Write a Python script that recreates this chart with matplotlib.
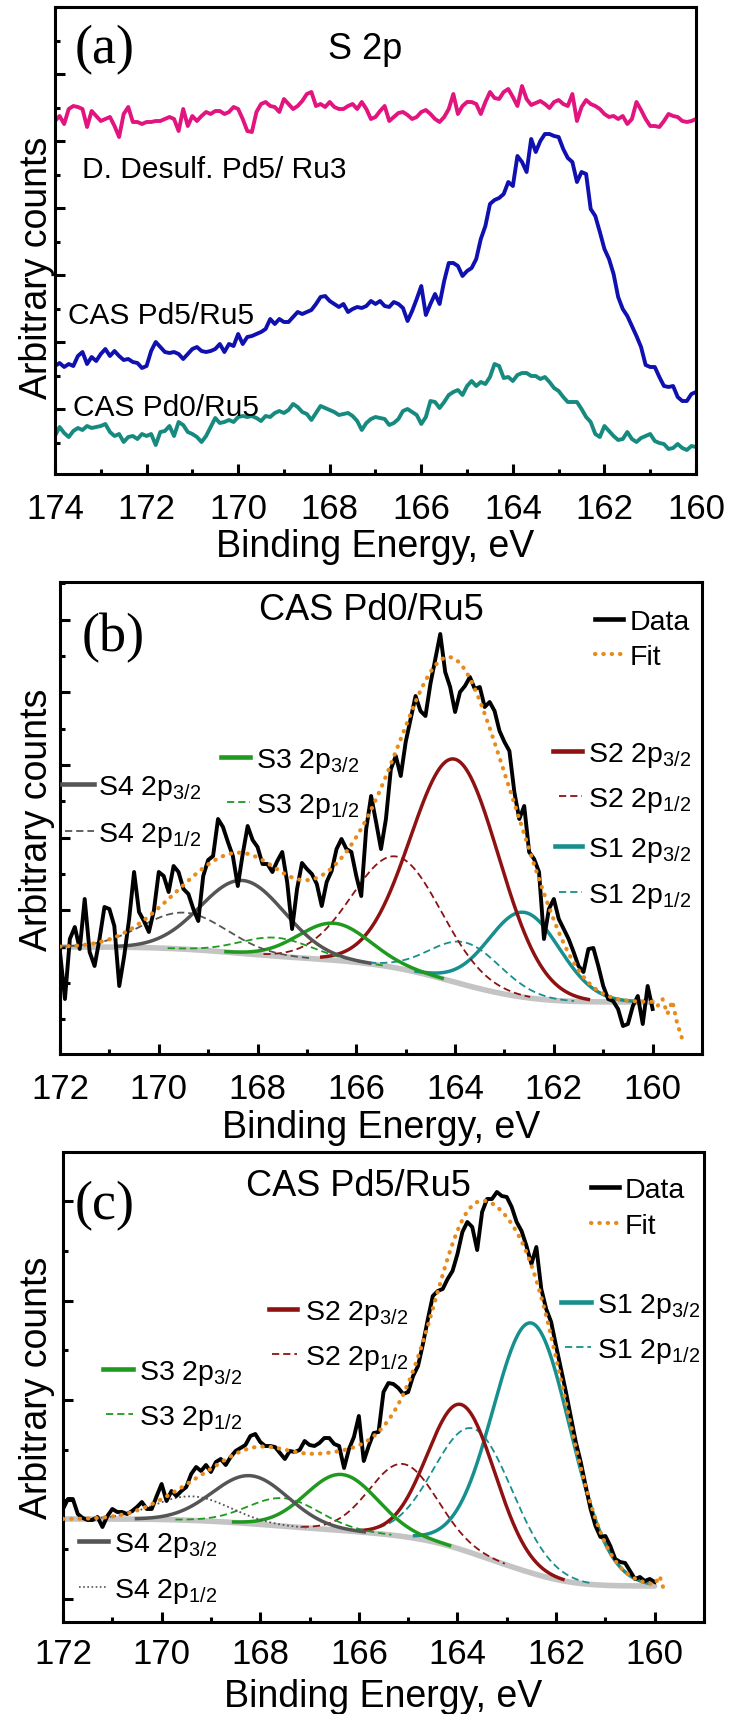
import numpy as np
import matplotlib
matplotlib.use("Agg")
import matplotlib.pyplot as plt
from matplotlib.lines import Line2D
from matplotlib.ticker import MultipleLocator, AutoMinorLocator

W, H, DPI = 729, 1715, 100

plt.rcParams['font.family'] = ['Liberation Sans', 'DejaVu Sans']
plt.rcParams['mathtext.fontset'] = 'custom'
plt.rcParams['mathtext.rm'] = 'Liberation Sans'
plt.rcParams['mathtext.it'] = 'Liberation Sans:italic'
plt.rcParams['mathtext.bf'] = 'Liberation Sans:bold'

# ---------------------------------------------------------------- data
# (a) S 2p survey, 0.1 eV steps from 174.0 down to 160.0 eV
energy_a = np.round(np.linspace(174.0, 160.0, 141), 1)

desulf_pd5_ru3 = [
    353, 358, 350, 365, 368, 367, 365, 347, 363, 358,
    353, 355, 357, 348, 337, 360, 367, 352, 352, 350,
    352, 352, 353, 353, 355, 357, 355, 343, 365, 348,
    358, 353, 358, 362, 360, 363, 363, 360, 362, 367,
    365, 355, 343, 342, 362, 370, 372, 368, 367, 362,
    375, 370, 365, 368, 373, 380, 382, 368, 370, 367,
    372, 367, 365, 365, 368, 370, 365, 372, 365, 355,
    357,
    363, 368, 353, 357, 361, 362, 359, 355, 357, 362,
    364, 360, 355, 352, 357, 365, 380, 360, 368, 372,
    372, 370, 360, 372, 382, 376, 375, 382, 385, 377,
    368, 388, 375, 369, 371, 373, 370, 366, 372, 374,
    370, 368, 380, 353, 367, 374, 370, 368, 365, 360,
    357, 358, 355, 358, 350, 355, 372, 364, 355, 348,
    348, 347, 353, 360, 358, 357, 353, 352, 353, 355,
]

cas_pd5_ru5_a = [
    108, 111, 107, 110, 108, 118, 122, 110, 117, 113,
    120, 125, 118, 123, 118, 114, 115, 112, 111, 106,
    108, 123, 132, 127, 122, 121, 122, 120, 115, 120,
    125, 127, 123, 122, 123, 125, 130, 122, 130, 128,
    140, 130, 137, 138, 140, 142, 145, 155, 150, 155,
    152, 152, 157, 162, 160, 162, 164, 170, 177, 178,
    173, 170, 167, 170, 162, 165, 167, 166, 168, 173,
    170,
    173, 168, 167, 172, 170, 166, 153, 163, 175, 188,
    159, 170, 180, 170, 193, 211, 211, 208, 198, 203,
    206, 215, 235, 248, 270, 274, 276, 280, 292, 288,
    318, 312, 302, 335, 322, 333, 340, 340, 338, 337,
    325, 316, 312, 292, 302, 300, 265, 258, 242, 225,
    215, 200, 177, 165, 158, 148, 138, 127, 109, 107,
    107, 97, 88, 87, 88, 77, 73, 73, 80, 82,
]

cas_pd0_ru5_a = [
    38, 47, 41, 37, 43, 46, 44, 48, 46, 47,
    48, 50, 42, 38, 40, 32, 37, 38, 35, 40,
    38, 40, 29, 42, 43, 48, 38, 52, 49, 42,
    40, 37, 32, 38, 47, 56, 51, 52, 54, 52,
    57, 58, 57, 58, 56, 53, 58, 57, 61, 63,
    61, 64, 70, 67, 62, 60, 54, 61, 68, 66,
    64, 62, 59, 60, 61, 58, 53, 44, 51, 55,
    57,
    56, 55, 49, 51, 55, 63, 65, 62, 59, 50,
    57, 73, 72, 66, 72, 79, 82, 84, 79, 88,
    93, 88, 92, 90, 97, 110, 108, 96, 97, 93,
    99, 101, 101, 98, 98, 95, 97, 92, 86, 83,
    77, 72, 72, 72, 65, 57, 52, 40, 37, 48,
    43, 38, 34, 35, 42, 35, 32, 36, 38, 40,
    33, 31, 30, 25, 26, 30, 26, 24, 28, 27,
]

# (b), (c) high-resolution spectra, 0.1 eV steps from 172.0 down to 160.0 eV
energy_bc = np.round(np.linspace(172.0, 160.0, 121), 1)

data_pd0_ru5 = [
    102, 55, 115, 127, 105, 155, 102, 88, 115, 147,
    145, 128, 68, 98, 135, 182, 142, 133, 122, 143,
    182, 178, 162, 188, 182, 165, 160, 145, 133, 178,
    194, 198, 235, 227, 212, 198, 168, 200, 228, 214,
    207, 190, 190, 182, 193, 202, 172, 125, 165, 191,
    185, 180, 170, 148, 172, 183, 205, 215, 205, 202,
    178, 158, 225, 258, 232, 205, 235, 285, 298, 278,
    312, 335, 358, 343, 338, 370, 395, 420, 382, 367,
    342, 362, 368, 377, 365, 367, 347, 352, 343, 323,
    312, 303, 262, 235, 248, 202, 195, 182, 115, 145,
    155, 135, 125, 115, 102, 88, 82, 105, 106, 88,
    68, 55, 53, 45, 28, 30, 48, 58, 30, 68,
    45,
]

data_pd5_ru5 = [
    113, 123, 123, 108, 104, 102, 102, 105, 95, 106,
    113, 110, 110, 108, 111, 115, 120, 113, 113, 126,
    138, 121, 131, 126, 131, 135, 148, 155, 151, 157,
    150, 160, 163, 157, 165, 171, 174, 177, 186, 188,
    180, 176, 176, 175, 169, 163, 171, 170, 172, 181,
    177, 176, 179, 184, 184, 178, 176, 154, 173, 185,
    206, 161, 176, 189, 190, 230, 239, 238, 234, 228,
    230, 246, 256, 278, 303, 326, 331, 333, 343, 351,
    368, 390, 400, 395, 372, 410, 423, 423, 430, 426,
    425, 415, 400, 391, 376, 358, 375, 333, 313, 300,
    276, 253, 230, 205, 180, 160, 136, 113, 96, 85,
    86, 76, 63, 60, 59, 51, 43, 45, 41, 43,
    40,
]

# fitted doublets: S1..S4 2p3/2 centre (eV), height, FWHM (eV)
peaks_b_center = [162.6, 164.0, 166.45, 168.3]
peaks_b_height = [85, 223, 37, 73]
peaks_b_fwhm = [1.7, 2.1, 1.7, 2.0]
shirley_b = (52, 107)          # low-BE / high-BE background level

peaks_c_center = [162.49, 163.92, 166.35, 168.2]
peaks_c_height = [250, 145, 56, 48]
peaks_c_fwhm = [1.85, 1.6, 1.7, 1.8]
shirley_c = (36, 103)

# envelope continuation below 160 eV
fit_tail_energy_b = [159.9, 159.8, 159.7, 159.6, 159.5, 159.4]
fit_tail_b = [48, 55, 40, 53, 30, 15]
fit_tail_energy_c = [159.9, 159.8]
fit_tail_c = [46, 30]

SO_SPLIT = 1.18   # S 2p spin-orbit splitting, eV
SO_RATIO = 0.5    # 2p1/2 : 2p3/2 area ratio

# ---------------------------------------------------------------- style
C_PINK, C_BLUE, C_TEALA = '#e2147e', '#1010b0', '#178a80'
C_S = ['#178f8f', '#8e1212', '#1f9a1f', '#555555']   # S1, S2, S3, S4
C_FIT, C_BG = '#e88b1a', '#c4c4c4'
DASH = (0, (4, 2.2))
FS_TICK, FS_LABEL, FS_TITLE, FS_KEY, FS_NOTE, FS_LETTER = 25, 27, 26, 20.5, 21.5, 39

fig = plt.figure(figsize=(W / DPI, H / DPI), dpi=DPI)


def fx(x):
    return x / W


def fy(y):
    return 1 - y / H


def cap_px(size):
    return 0.716 * size / 72 * DPI


def axes_at(left, top, right, bottom):
    return fig.add_axes([fx(left), fy(bottom), (right - left) / W, (bottom - top) / H])


def style_axes(ax, xlim, ylim, ybase, yoff, tick_center, left_px, width_px, height_px,
               ylab_center, xlab_center):
    ax.set_xlim(*xlim)
    ax.set_ylim(*ylim)
    ax.xaxis.set_major_locator(MultipleLocator(2))
    ax.xaxis.set_minor_locator(MultipleLocator(1))
    ax.yaxis.set_major_locator(MultipleLocator(ybase, offset=yoff))
    ax.yaxis.set_minor_locator(AutoMinorLocator(2))
    ax.tick_params(which='both', direction='in', top=False, right=False,
                   width=2.2, labelleft=False)
    ax.tick_params(which='major', length=7.5)
    ax.tick_params(which='minor', length=3.8)
    pad_px = tick_center - cap_px(FS_TICK) / 2
    ax.tick_params(axis='x', labelsize=FS_TICK, pad=pad_px * 72 / DPI)
    for s in ax.spines.values():
        s.set_linewidth(2.2)
    ax.set_xlabel('Binding Energy, eV', fontsize=FS_LABEL)
    ax.set_ylabel('Arbitrary counts', fontsize=FS_LABEL)
    drop = xlab_center - cap_px(FS_LABEL) / 2
    ax.xaxis.set_label_coords(0.5, -drop / height_px)
    ax.yaxis.set_label_coords((55 - left_px) / width_px, ylab_center)


def gauss(e, c, h, w):
    s = w / (2 * np.sqrt(2 * np.log(2)))
    return h * np.exp(-0.5 * ((e - c) / s) ** 2)


e_model = np.linspace(172.0, 160.0, 1201)


def draw_fit(ax, centers, heights, fwhms, shirley, tail_e, tail_v, s4_half_style):
    comps = []
    for i, (c, h, w) in enumerate(zip(centers, heights, fwhms)):
        comps.append((gauss(e_model, c, h, w), h, C_S[i], '-', 2.5))
        half_style = s4_half_style if i == 3 else DASH
        comps.append((gauss(e_model, c + SO_SPLIT, h * SO_RATIO, w), h * SO_RATIO,
                      C_S[i], half_style, 1.3))
    total = np.sum([p for p, *_ in comps], axis=0)
    cum = np.cumsum(total[::-1])
    frac = (cum / cum[-1])[::-1]
    low, high = shirley
    bg = low + (high - low) * frac
    ax.plot(e_model, bg, color=C_BG, lw=4, zorder=1, solid_capstyle='round')
    for p, h, col, ls, lw in comps:
        y = np.where(p > 0.01 * h, bg + p, np.nan)
        ax.plot(e_model, y, color=col, ls=ls, lw=lw, zorder=2)
    env_e = np.concatenate([e_model, tail_e])
    env_y = np.concatenate([bg + total, tail_v])
    ax.plot(env_e, env_y, color=C_FIT, lw=3, ls=(0, (0.1, 1.9)),
            dash_capstyle='round', zorder=4)


def key_line(x0, x1, y, **kw):
    fig.add_artist(Line2D([fx(x0), fx(x1)], [fy(y), fy(y)],
                          transform=fig.transFigure, **kw))


def place_text(x, y, s, size, ha='left'):
    fig.text(fx(x), fy(y + cap_px(size) / 2), s, fontsize=size, ha=ha, va='baseline')


def key_text(x, y, s):
    place_text(x, y, s, FS_KEY)


def panel_letter(x, y, s):
    fig.text(fx(x), fy(y), s, fontsize=FS_LETTER, family='Liberation Serif',
             ha='left', va='center')


SUB32 = r'$_{3/2}$'
SUB12 = r'$_{1/2}$'

# ---------------------------------------------------------------- (a)
ax_a = axes_at(55, 8, 696, 475)
ax_a.plot(energy_a, desulf_pd5_ru3, color=C_PINK, lw=2.8)
ax_a.plot(energy_a, cas_pd5_ru5_a, color=C_BLUE, lw=2.8)
ax_a.plot(energy_a, cas_pd0_ru5_a, color=C_TEALA, lw=2.8)
style_axes(ax_a, (174, 160), (0, 467), 67, -2, 30, 55, 641, 467, 0.443, 67)
panel_letter(75, 50, '(a)')
place_text(365, 46, 'S 2p', FS_TITLE, ha='center')
place_text(82, 167, 'D. Desulf. Pd5/ Ru3', FS_NOTE)
place_text(68, 313, 'CAS Pd5/Ru5', FS_NOTE)
place_text(73, 405, 'CAS Pd0/Ru5', FS_NOTE)

# ---------------------------------------------------------------- (b)
ax_b = axes_at(60, 583, 702, 1055)
draw_fit(ax_b, peaks_b_center, peaks_b_height, peaks_b_fwhm, shirley_b,
         fit_tail_energy_b, fit_tail_b, DASH)
ax_b.plot(energy_bc, data_pd0_ru5, color='black', lw=2.8, zorder=3)
style_axes(ax_b, (172, 159), (0, 472), 72.7, -1.7, 30, 60, 642, 472, 0.498, 68)
panel_letter(82, 638, '(b)')
place_text(371, 607, 'CAS Pd0/Ru5', FS_TITLE, ha='center')

key_line(595, 623, 620, color='black', lw=3.3)
key_text(630, 620, 'Data')
key_line(595, 623, 655, color=C_FIT, lw=3, ls=(0, (0.1, 1.9)), dash_capstyle='round')
key_text(630, 655, 'Fit')
key_line(553, 582, 752, color=C_S[1], lw=3.3)
key_text(588, 752, 'S2 2p' + SUB32)
key_line(559, 582, 797, color=C_S[1], lw=1.3, ls=DASH)
key_text(588, 797, 'S2 2p' + SUB12)
key_line(555, 582, 847, color=C_S[0], lw=3.3)
key_text(588, 847, 'S1 2p' + SUB32)
key_line(559, 582, 893, color=C_S[0], lw=1.3, ls=DASH)
key_text(588, 893, 'S1 2p' + SUB12)
key_line(221, 250, 758, color=C_S[2], lw=3.3)
key_text(256, 758, 'S3 2p' + SUB32)
key_line(227, 250, 803, color=C_S[2], lw=1.3, ls=DASH)
key_text(256, 803, 'S3 2p' + SUB12)
key_line(62, 94, 785, color=C_S[3], lw=3.3)
key_text(98, 785, 'S4 2p' + SUB32)
key_line(65, 94, 832, color=C_S[3], lw=1.3, ls=DASH)
key_text(98, 832, 'S4 2p' + SUB12)

# ---------------------------------------------------------------- (c)
ax_c = axes_at(63, 1153, 704, 1623)
draw_fit(ax_c, peaks_c_center, peaks_c_height, peaks_c_fwhm, shirley_c,
         fit_tail_energy_c, fit_tail_c, (0, (1, 1.5)))
ax_c.plot(energy_bc, data_pd5_ru5, color='black', lw=2.8, zorder=3)
style_axes(ax_c, (172, 159), (0, 470), 99.5, 23, 27, 63, 641, 470, 0.5, 69)
panel_letter(75, 1206, '(c)')
place_text(358, 1183, 'CAS Pd5/Ru5', FS_TITLE, ha='center')

key_line(591, 619, 1188, color='black', lw=3.3)
key_text(625, 1188, 'Data')
key_line(591, 619, 1224, color=C_FIT, lw=3, ls=(0, (0.1, 1.9)), dash_capstyle='round')
key_text(625, 1224, 'Fit')
key_line(561, 591, 1303, color=C_S[0], lw=3.3)
key_text(597, 1303, 'S1 2p' + SUB32)
key_line(565, 591, 1348, color=C_S[0], lw=1.3, ls=DASH)
key_text(597, 1348, 'S1 2p' + SUB12)
key_line(269, 297, 1310, color=C_S[1], lw=3.3)
key_text(305, 1310, 'S2 2p' + SUB32)
key_line(272, 297, 1355, color=C_S[1], lw=1.3, ls=DASH)
key_text(305, 1355, 'S2 2p' + SUB12)
key_line(103, 133, 1370, color=C_S[2], lw=3.3)
key_text(139, 1370, 'S3 2p' + SUB32)
key_line(106, 133, 1415, color=C_S[2], lw=1.3, ls=DASH)
key_text(139, 1415, 'S3 2p' + SUB12)
key_line(79, 108, 1542, color=C_S[3], lw=3.3)
key_text(114, 1542, 'S4 2p' + SUB32)
key_line(79, 106, 1588, color=C_S[3], lw=1.2, ls=(0, (1, 1.5)))
key_text(114, 1588, 'S4 2p' + SUB12)

fig.savefig('out.png', dpi=DPI)
